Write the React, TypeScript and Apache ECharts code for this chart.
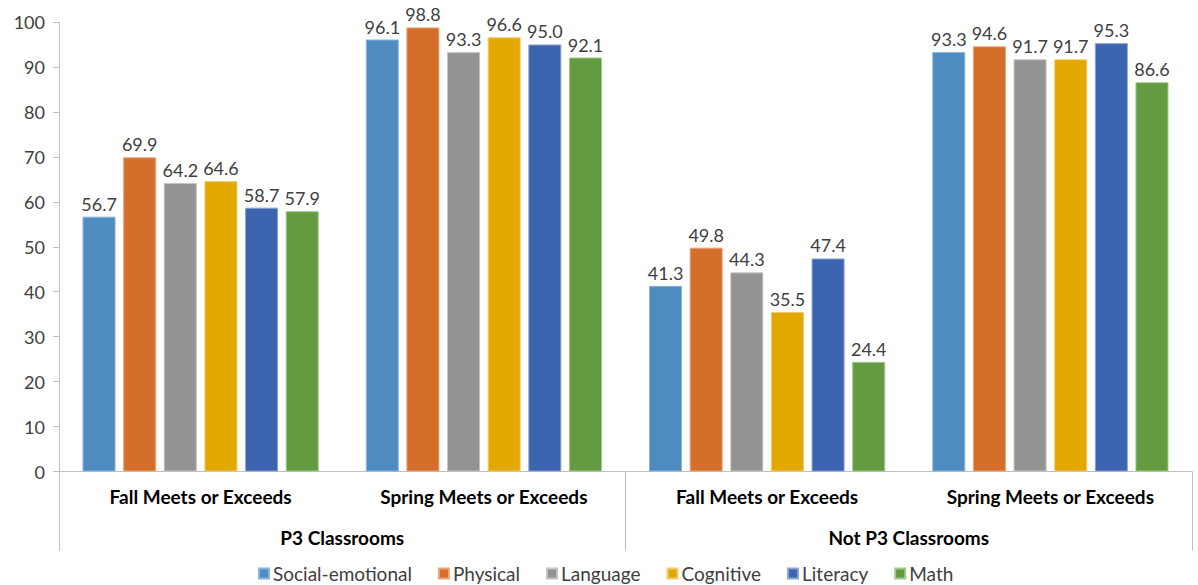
import React, { useEffect, useRef } from "react";
import * as echarts from "echarts";

// Outcome categories (inner axis) and classroom groups (outer axis)
const periods = [
  "Fall Meets or Exceeds",
  "Spring Meets or Exceeds",
  "Fall Meets or Exceeds",
  "Spring Meets or Exceeds",
];
const groups = ["P3 Classrooms", "Not P3 Classrooms"];

// Percent meeting or exceeding, per domain, in the order of `periods`
const socialEmotional = [56.7, 96.1, 41.3, 93.3];
const physical = [69.9, 98.8, 49.8, 94.6];
const language = [64.2, 93.3, 44.3, 91.7];
const cognitive = [64.6, 96.6, 35.5, 91.7];
const literacy = [58.7, 95.0, 47.4, 95.3];
const math = [57.9, 92.1, 24.4, 86.6];

const domainNames = ["Social-emotional", "Physical", "Language", "Cognitive", "Literacy", "Math"];
const domainValues = [socialEmotional, physical, language, cognitive, literacy, math];
const domainColors = ["#4E8BC0", "#D56D2B", "#939393", "#E2A800", "#3D64AE", "#629B40"];
const domainBorders = ["#8DB4D8", "#E9A77C", "#C4C4C4", "#F0CC70", "#8AA3D2", "#A3C78E"];

const yTicks = { min: 0, max: 100, interval: 10 };

const FONT = "Lato";
const AXIS_GREY = "#BFBFBF";
const TEXT = "#404040";

export default function App() {
  const ref = useRef<HTMLDivElement>(null);

  useEffect(() => {
    document.body.style.margin = "0";
    if (!ref.current) return;
    const chart = echarts.init(ref.current, undefined, { renderer: "svg" });

    const series = domainNames.map((name, i) => ({
      name,
      type: "bar" as const,
      data: domainValues[i],
      xAxisIndex: 0,
      barGap: "23%",
      barCategoryGap: "16.6%",
      itemStyle: {
        color: domainColors[i],
        borderColor: domainBorders[i],
        borderWidth: 1,
      },
      label: {
        show: true,
        position: "top" as const,
        distance: 4,
        fontFamily: FONT,
        fontSize: 18,
        color: TEXT,
        formatter: (p: any) => Number(p.value).toFixed(1),
      },
    }));

    chart.setOption({
      animation: false,
      backgroundColor: "#FFFFFF",
      textStyle: { fontFamily: FONT },
      grid: { left: 59, right: 6, top: 22, bottom: 113.5, containLabel: false },
      legend: {
        bottom: -3,
        left: 253,
        itemWidth: 10,
        itemHeight: 10,
        itemGap: 26,
        icon: "rect",
        textStyle: { fontFamily: FONT, fontSize: 19, color: TEXT, padding: [0, 0, 0, -1] },
        data: domainNames,
      },
      xAxis: [
        {
          type: "category",
          data: periods,
          position: "bottom",
          axisLine: { show: true, lineStyle: { color: AXIS_GREY, width: 1 } },
          axisTick: { show: false },
          axisLabel: {
            interval: 0,
            margin: 15,
            fontFamily: FONT,
            fontSize: 19,
            fontWeight: "bold",
            color: "#000000",
          },
          splitLine: { show: false },
        },
        {
          type: "category",
          data: groups,
          position: "bottom",
          axisLine: { show: false },
          axisTick: {
            show: true,
            interval: 0,
            length: 79,
            lineStyle: { color: AXIS_GREY, width: 1 },
          },
          axisLabel: {
            interval: 0,
            margin: 56,
            fontFamily: FONT,
            fontSize: 19,
            fontWeight: "bold",
            color: "#000000",
          },
          splitLine: { show: false },
        },
      ],
      yAxis: {
        type: "value",
        min: yTicks.min,
        max: yTicks.max,
        interval: yTicks.interval,
        axisLine: { show: true, lineStyle: { color: AXIS_GREY, width: 1 } },
        axisTick: { show: true, length: 6, lineStyle: { color: AXIS_GREY } },
        axisLabel: { margin: 14, fontFamily: FONT, fontSize: 18, color: TEXT },
        splitLine: { show: false },
      },
      series,
    });

    return () => chart.dispose();
  }, []);

  return <div ref={ref} style={{ width: 1198, height: 585 }} />;
}
